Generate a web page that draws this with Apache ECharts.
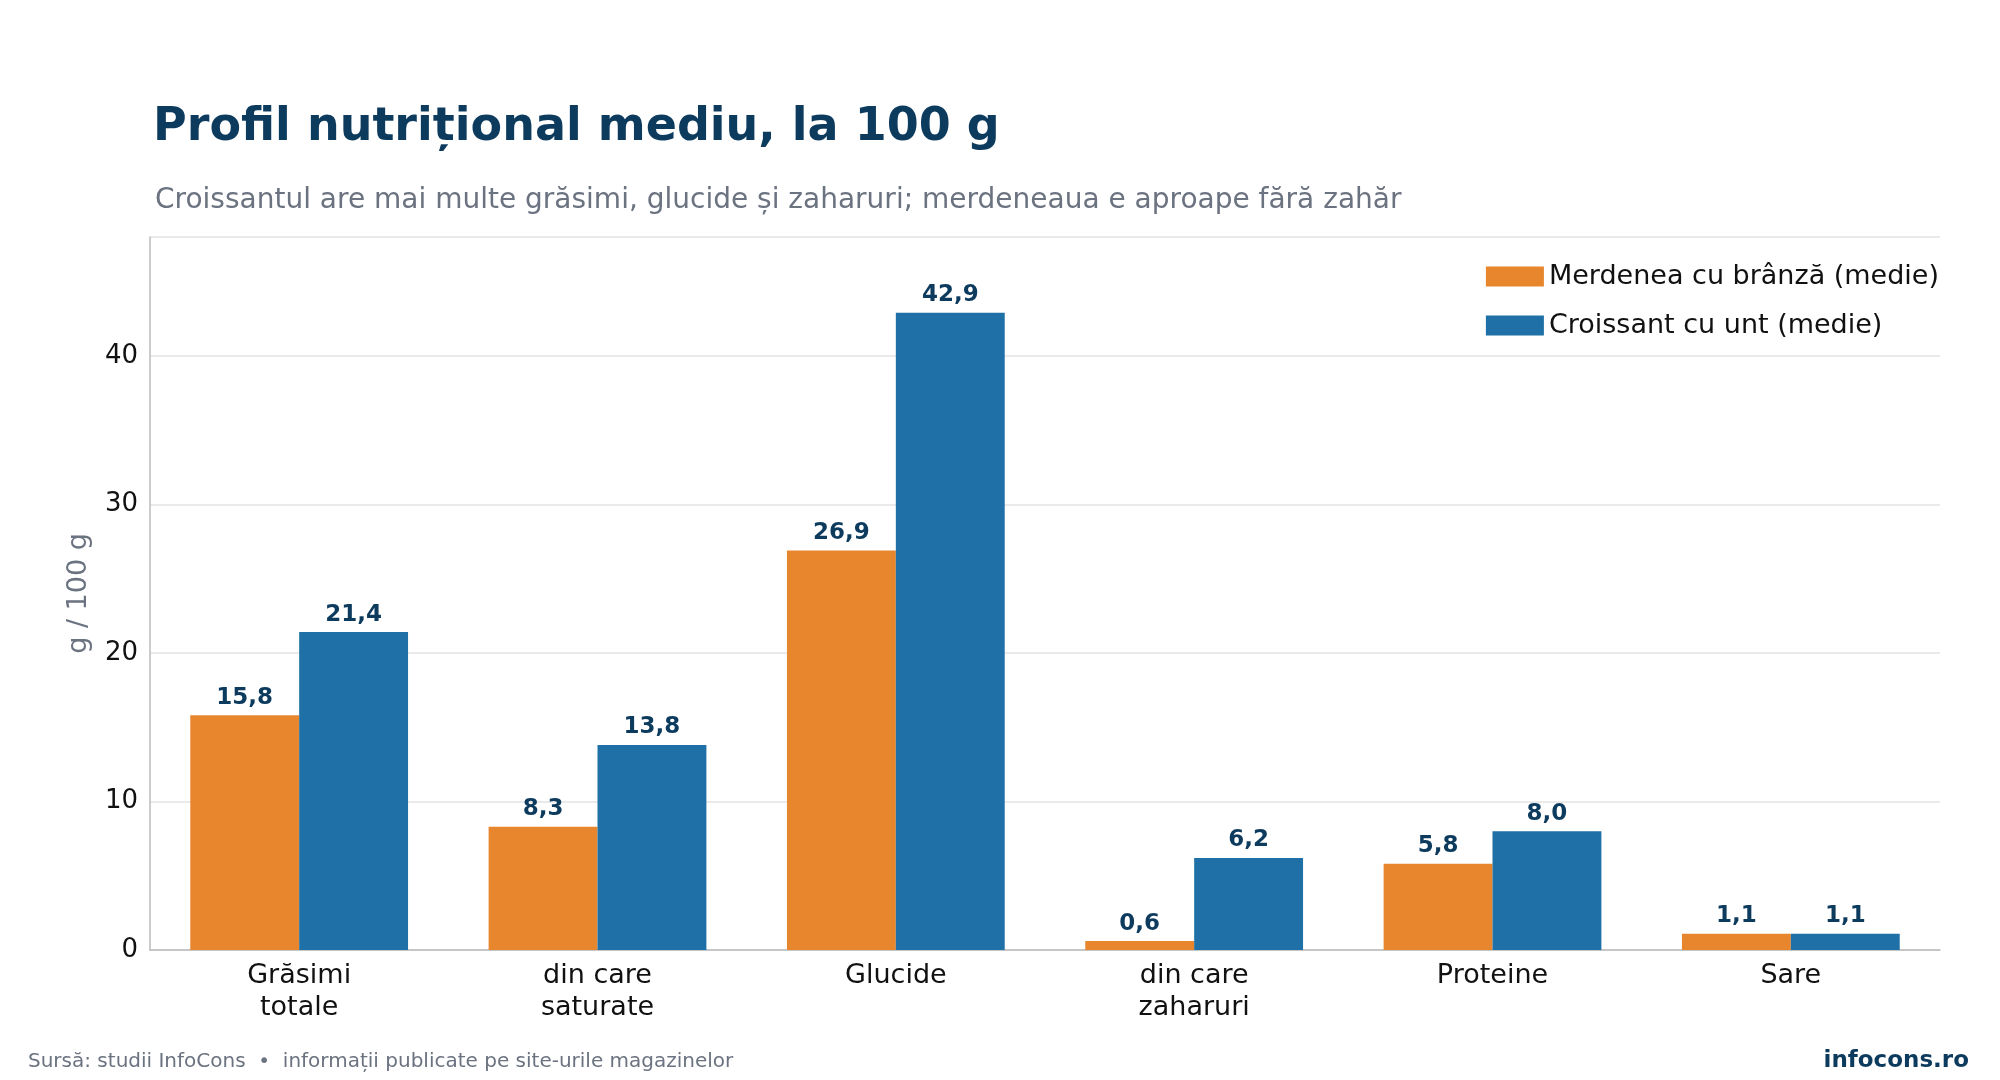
<!DOCTYPE html>
<html><head><meta charset="utf-8">
<script src="https://cdn.jsdelivr.net/npm/echarts@6/dist/echarts.min.js"></script>
<style>html,body{margin:0;background:#fff}#c{width:2000px;height:1080px}</style>
</head><body><div id="c"></div>
<script>
const categories = ['Grăsimi\ntotale', 'din care\nsaturate', 'Glucide', 'din care\nzaharuri', 'Proteine', 'Sare']
const merdenea = [15.8, 8.3, 26.9, 0.6, 5.8, 1.1]
const croissant = [21.4, 13.8, 42.9, 6.2, 8.0, 1.1]
const seriesNames = ['Merdenea cu brânză (medie)', 'Croissant cu unt (medie)']

const font = 'DejaVu Sans'
const fmt = v => v.toFixed(1).replace('.', ',')
const label = {
  show: true, position: 'top', distance: 6, color: '#0d3b5e',
  fontFamily: font, fontWeight: 'bold', fontSize: 23,
  formatter: p => fmt(p.value)
}

const chart = echarts.init(document.getElementById('c'))
chart.setOption({
  animation: false,
  textStyle: { fontFamily: font },
  title: [
    { text: 'Profil nutrițional mediu, la 100 g', left: 148, top: 100,
      textStyle: { fontFamily: font, fontSize: 46, fontWeight: 'bold', color: '#0d3b5e' } },
    { text: 'Croissantul are mai multe grăsimi, glucide și zaharuri; merdeneaua e aproape fără zahăr', left: 150, top: 182,
      textStyle: { fontFamily: font, fontSize: 28, fontWeight: 'normal', color: '#6b7280' } },
    { text: 'Sursă: studii InfoCons  •  informații publicate pe site-urile magazinelor', left: 23, top: 1047,
      textStyle: { fontFamily: font, fontSize: 20, fontWeight: 'normal', color: '#6b7280' } },
    { text: 'infocons.ro', right: 26, top: 1045,
      textStyle: { fontFamily: font, fontSize: 23, fontWeight: 'bold', color: '#0d3b5e' } }
  ],
  legend: {
    right: 56, top: 258, orient: 'vertical', itemWidth: 58, itemHeight: 20, itemGap: 22,
    icon: 'rect', textStyle: { fontFamily: font, fontSize: 27, color: '#111' },
    data: seriesNames
  },
  grid: { left: 150, right: 60, top: 237, bottom: 130 },
  xAxis: {
    type: 'category', data: categories,
    axisLine: { lineStyle: { color: '#bbb', width: 1.5 } }, axisTick: { show: false },
    axisLabel: { fontFamily: font, fontSize: 27, color: '#111', lineHeight: 32, margin: 10 }
  },
  yAxis: {
    type: 'value', min: 0, max: 48, interval: 10,
    name: 'g / 100 g', nameLocation: 'middle', nameGap: 58,
    nameTextStyle: { fontFamily: font, fontSize: 27, color: '#6b7280' },
    axisLine: { show: true, lineStyle: { color: '#bbb', width: 1.5 } }, axisTick: { show: false },
    axisLabel: { fontFamily: font, fontSize: 26, color: '#111', margin: 12,
      formatter: v => v % 10 === 0 ? v : '' },
    splitLine: { lineStyle: { color: '#e3e3e3', width: 1.5 } }
  },
  series: [
    { name: seriesNames[0], type: 'bar', data: merdenea, barGap: '0%', barCategoryGap: '27%',
      itemStyle: { color: '#E8862E' }, label },
    { name: seriesNames[1], type: 'bar', data: croissant,
      itemStyle: { color: '#1F70A6' }, label }
  ]
})
</script></body></html>
